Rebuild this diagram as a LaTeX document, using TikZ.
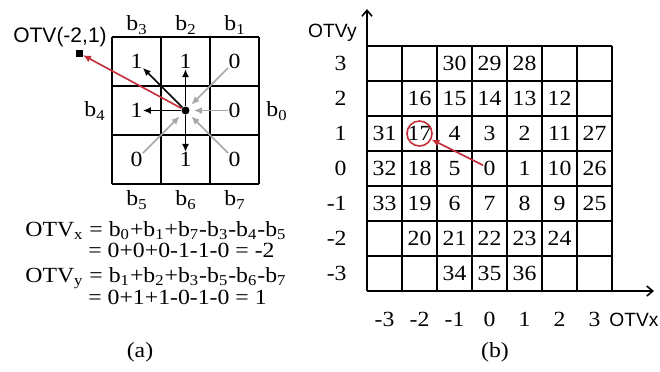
\documentclass[tikz,border=0pt]{standalone}
\usepackage{fontspec}
\setmainfont{Liberation Serif}[FakeStretch=1.1]
\setsansfont{Liberation Sans}
\usepackage{tikz}
\usetikzlibrary{arrows.meta,positioning}
\definecolor{otvred}{RGB}{196,45,55}
\newcommand{\ix}[1]{\textsubscript{#1}}

\begin{document}
\begin{tikzpicture}[
  x=0.5pt, y=-0.5pt,
  font=\fontsize{10.8}{12}\selectfont,
  grid/.style={line width=1pt},
  digit/.style={inner sep=0pt},
  lbl/.style={inner sep=0pt},
  otv/.style={font=\sffamily\fontsize{10.5}{12}\selectfont, inner sep=0pt},
  dot/.style={circle, fill=black, inner sep=0pt, minimum size=4pt},
  sq/.style={rectangle, fill=black, inner sep=0pt, minimum size=3.5pt},
  ring/.style={circle, draw=otvred, line width=0.8pt, inner sep=0pt, minimum size=12.5pt},
  bit/.style={-{Latex[length=4pt,width=3.5pt]}, line width=0.8pt},
  back/.style={-{Latex[length=4pt,width=3.5pt]}, line width=0.8pt, black!35, shorten >=2pt},
  vec/.style={-{Latex[length=4pt,width=3.5pt]}, line width=0.8pt, otvred},
  axis/.style={-{Straight Barb[length=3pt,width=5pt]}, line width=0.8pt}
]
\useasboundingbox (0,0) rectangle (660,371);

% (a) 3x3 neighbourhood
\foreach \k in {0,...,3} {
  \draw[grid] (112+49*\k,37) -- (112+49*\k,184);
  \draw[grid] (112,37+49*\k) -- (259,37+49*\k);
}
\foreach \n/\i/\j/\v in {3/0/0/1, 2/1/0/1, 1/2/0/0, 4/0/1/1, 0/2/1/0, 5/0/2/0, 6/1/2/1, 7/2/2/0}
  \node[digit] (c\n) at (136.5+49*\i,61.5+49*\j) {\v};
\node[dot] (ctr) at (185.5,110.5) {};

\node[lbl] (l3) at (137,25) {b\ix{3}};
\node[lbl] (l2) at (186,25) {b\ix{2}};
\node[lbl] (l1) at (235,25) {b\ix{1}};
\node[lbl] (l4) at (95,111) {b\ix{4}};
\node[lbl] (l0) at (277,111) {b\ix{0}};
\node[lbl] (l5) at (137,200) {b\ix{5}};
\node[lbl] (l6) at (186,200) {b\ix{6}};
\node[lbl] (l7) at (235,200) {b\ix{7}};

\foreach \n in {3,2,4,6} \draw[bit] (ctr) -- (c\n);
\foreach \n in {1,0,7,5} \draw[back] (c\n) -- (ctr);

\node[sq] (pt) at (79,53) {};
\node[otv, anchor=base] (ptlbl) at (60,42) {OTV(-2,1)};
\draw[vec] (ctr) -- (pt);

\node[lbl, anchor=base west] (eq1) at (25,236) {OTV\ix{x} = b\ix{0}+b\ix{1}+b\ix{7}-b\ix{3}-b\ix{4}-b\ix{5}};
\node[lbl, anchor=base west] (eq2) at (88,257) {= 0+0+0-1-1-0 = -2};
\node[lbl, anchor=base west] (eq3) at (25,282) {OTV\ix{y} = b\ix{1}+b\ix{2}+b\ix{3}-b\ix{5}-b\ix{6}-b\ix{7}};
\node[lbl, anchor=base west] (eq4) at (88,304) {= 0+1+1-0-1-0 = 1};
\node[lbl] (capa) at (140,352) {(a)};

% (b) OTV plane
\foreach \k in {0,...,7} {
  \draw[grid] (367+35*\k,46) -- (367+35*\k,291);
  \draw[grid] (367,46+35*\k) -- (612,46+35*\k);
}
\coordinate (o) at (367,291);
\coordinate (ytip) at (367,9);
\coordinate (xtip) at (654,291);
\draw[axis] (o) -- (ytip);
\draw[axis] (o) -- (xtip);

\foreach \y/\s/\vals in {3/-1/{30,29,28}, 2/-2/{16,15,14,13,12}, 1/-3/{31,17,4,3,2,11,27},
    0/-3/{32,18,5,0,1,10,26}, -1/-3/{33,19,6,7,8,9,25}, -2/-2/{20,21,22,23,24}, -3/-1/{34,35,36}}
  \foreach \v [count=\c from \s] in \vals
    \node[digit] (n\v) at (489.5+35*\c,168.5-35*\y) {\v};

\foreach \y in {-3,...,3}
  \node[lbl, anchor=east] (ry\y) at (347,168.5-35*\y) {\y};
\foreach \x in {-3,...,3}
  \node[lbl] (cx\x) at (489.5+35*\x,319) {\x};
\node[otv, font=\sffamily\fontsize{9.6}{11}\selectfont, anchor=base west] (xlbl) at (609,326) {OTVx};
\node[otv, font=\sffamily\fontsize{9.6}{11}\selectfont, anchor=base east] (ylbl) at (357,37) {OTVy};

\node[ring] (hit) at (n17) {};
\draw[vec] (n0) -- (hit);
\node[lbl] (capb) at (495,352) {(b)};
\end{tikzpicture}
\end{document}
